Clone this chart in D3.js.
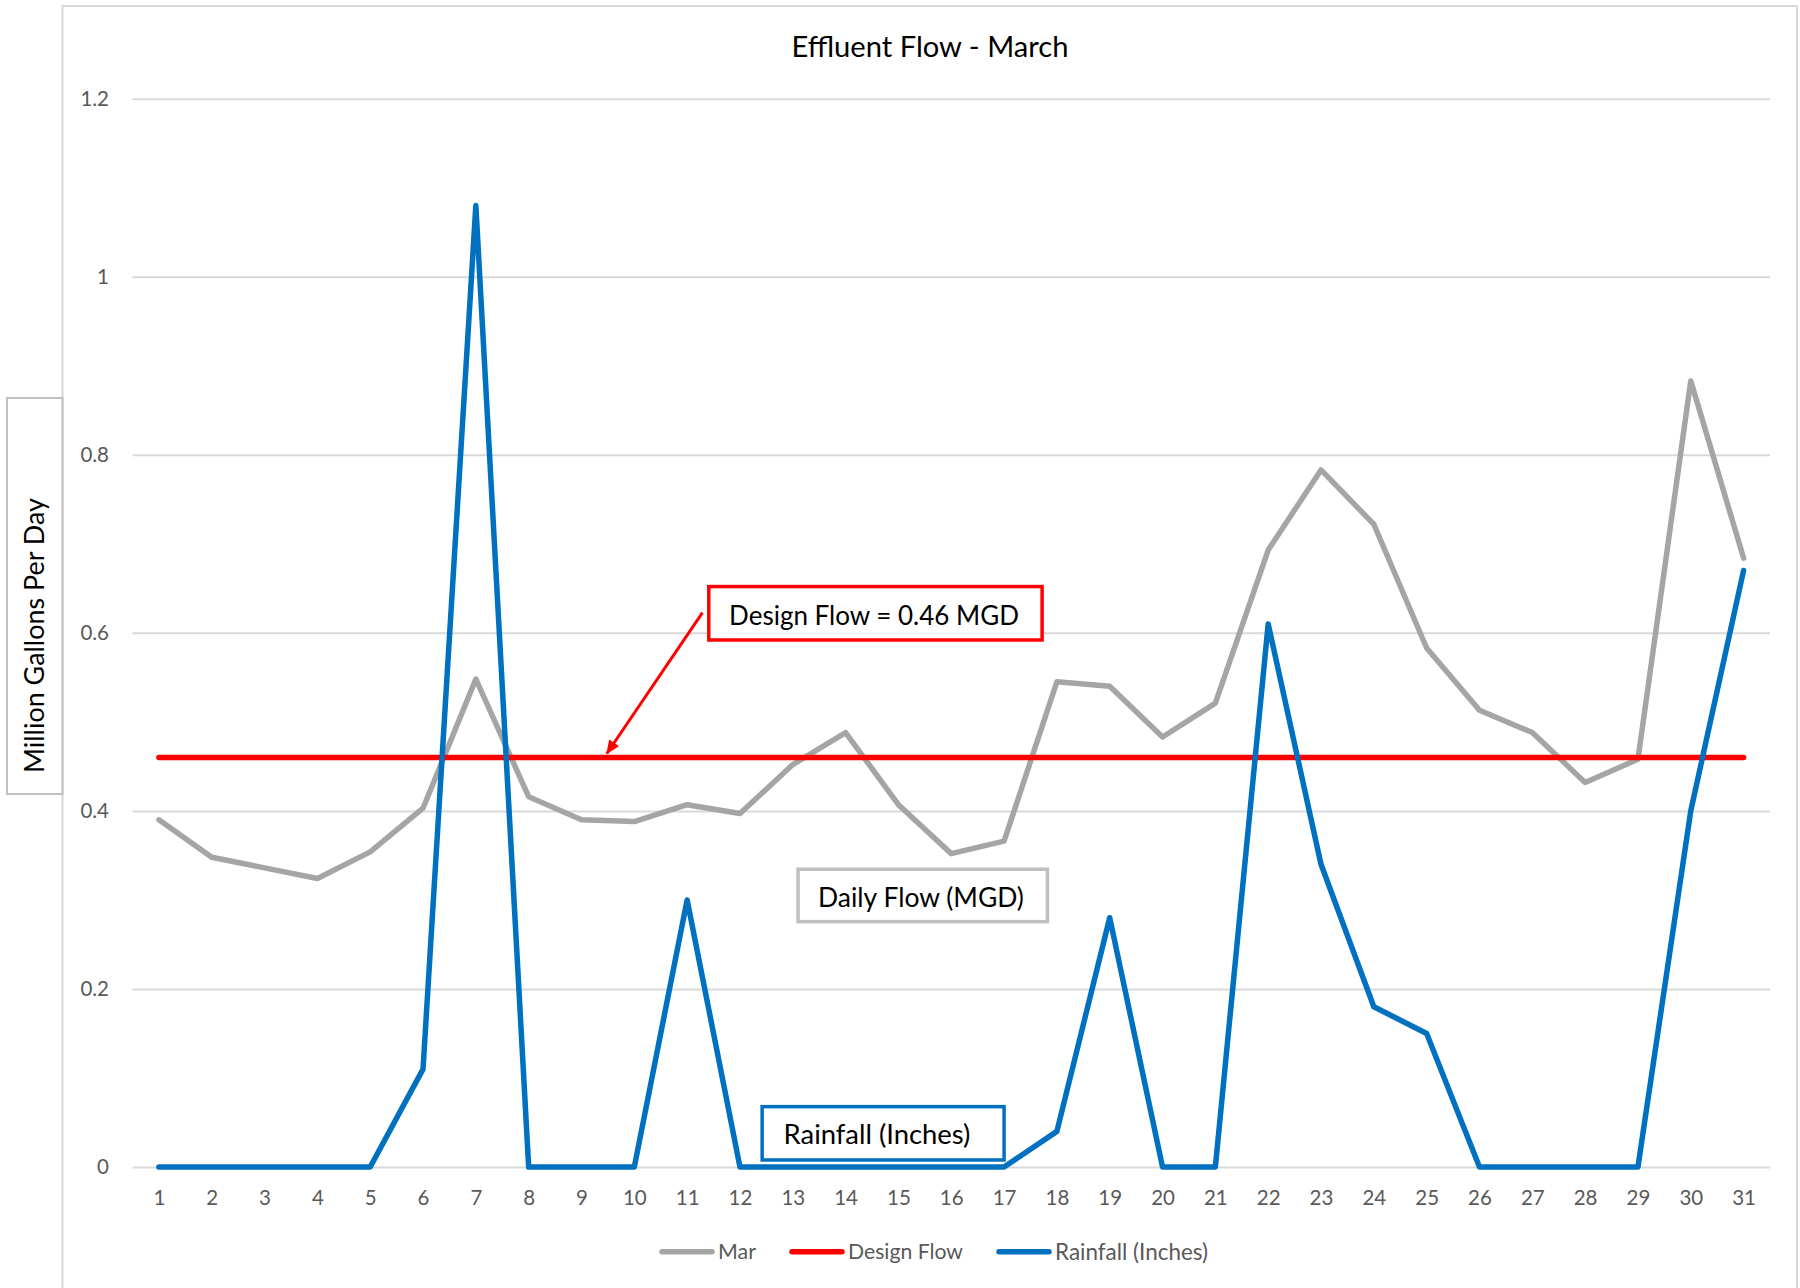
<!DOCTYPE html>
<html>
<head>
<meta charset="utf-8">
<script src="https://cdn.jsdelivr.net/npm/d3@7"></script>
<style>
  html, body { margin: 0; padding: 0; background: #ffffff; }
  svg { display: block; font-family: Lato, "Open Sans", sans-serif; }
</style>
</head>
<body>
<svg id="chart" width="1800" height="1288"></svg>
<script>
// ---------------- DATA ----------------
const days = [1,2,3,4,5,6,7,8,9,10,11,12,13,14,15,16,17,18,19,20,21,22,23,24,25,26,27,28,29,30,31];
const marFlow = [0.390,0.348,0.336,0.324,0.354,0.403,0.548,0.416,0.390,0.388,0.407,0.397,0.452,0.488,0.407,0.352,0.366,0.545,0.540,0.483,0.521,0.693,0.783,0.722,0.583,0.513,0.488,0.432,0.458,0.883,0.684];
const designFlow = [0.46,0.46,0.46,0.46,0.46,0.46,0.46,0.46,0.46,0.46,0.46,0.46,0.46,0.46,0.46,0.46,0.46,0.46,0.46,0.46,0.46,0.46,0.46,0.46,0.46,0.46,0.46,0.46,0.46,0.46,0.46];
const rainfall = [0,0,0,0,0,0.11,1.08,0,0,0,0.30,0,0,0,0,0,0,0.04,0.28,0,0,0.61,0.34,0.18,0.15,0,0,0,0,0.40,0.67];
const yTickValues = [0,0.2,0.4,0.6,0.8,1,1.2];
const yTickLabels = ["0","0.2","0.4","0.6","0.8","1","1.2"];
const seriesNames = ["Mar","Design Flow","Rainfall (Inches)"];
const chartTitle = "Effluent Flow - March";
const yAxisTitle = "Million Gallons Per Day";

// ---------------- LAYOUT ----------------
const W = 1800, H = 1288;
const plot = { left: 132.5, right: 1770, top: 98.7, bottom: 1167 };
const colors = { mar: "#a5a5a5", design: "#ff0000", rain: "#0070c0", grid: "#d9d9d9", tick: "#595959" };

const svg = d3.select("#chart");
svg.append("rect").attr("width", W).attr("height", H).attr("fill", "#ffffff");

// chart outer border (extends beyond picture bottom)
svg.append("rect")
  .attr("x", 62.5).attr("y", 6).attr("width", 1797 - 62.5).attr("height", 1400)
  .attr("fill", "none").attr("stroke", "#d9d9d9").attr("stroke-width", 2);

const x = d3.scalePoint().domain(days).range([plot.left, plot.right]).padding(0.5);
const y = d3.scaleLinear().domain([0, 1.2]).range([plot.bottom, plot.top]);
const xl = d3.scaleLinear().domain([1, 31]).range([x(1), x(31)]); // for annotations

function fitWidth(sel, target) {
  const w = sel.node().getComputedTextLength();
  const fs = parseFloat(sel.attr("font-size"));
  sel.attr("font-size", fs * target / w);
}

// ---- Y axis with gridlines
const yAxis = d3.axisLeft(y)
  .tickValues(yTickValues)
  .tickFormat((d, i) => yTickLabels[i])
  .tickSize(-(plot.right - plot.left))
  .tickPadding(23.5);
const gy = svg.append("g").attr("transform", `translate(${plot.left},0)`).call(yAxis);
gy.select(".domain").remove();
gy.selectAll(".tick line").attr("stroke", colors.grid).attr("stroke-width", 2);
gy.selectAll(".tick text").attr("fill", colors.tick).attr("font-size", 20.5)
  .attr("font-family", "Lato, sans-serif");

// ---- X axis
const xAxis = d3.axisBottom(x).tickSize(0).tickPadding(23.5);
const gx = svg.append("g").attr("transform", `translate(0,${plot.bottom})`).call(xAxis);
gx.select(".domain").remove();
gx.selectAll(".tick text").attr("fill", colors.tick).attr("font-size", 20.5)
  .attr("font-family", "Lato, sans-serif");

// ---- Series lines
const line = d3.line().x((d, i) => x(days[i])).y(d => y(d));
const seriesData = [
  { values: marFlow, color: colors.mar, width: 5.5 },
  { values: designFlow, color: colors.design, width: 5.5 },
  { values: rainfall, color: colors.rain, width: 5.5 }
];
svg.append("g").selectAll("path").data(seriesData).join("path")
  .attr("d", d => line(d.values))
  .attr("fill", "none")
  .attr("stroke", d => d.color)
  .attr("stroke-width", d => d.width)
  .attr("stroke-linejoin", "round")
  .attr("stroke-linecap", "round");

// ---- Title
const title = svg.append("text")
  .attr("x", 930).attr("y", 57.3)
  .attr("text-anchor", "middle")
  .attr("font-size", 28).attr("fill", "#000000")
  .text(chartTitle);
fitWidth(title, 277);

// ---- Y axis title box
svg.append("rect")
  .attr("x", 7).attr("y", 398).attr("width", 55.5).attr("height", 396)
  .attr("fill", "#ffffff").attr("stroke", "#bfbfbf").attr("stroke-width", 2);
const yt = svg.append("text")
  .attr("transform", "translate(44,773) rotate(-90)")
  .attr("text-anchor", "start")
  .attr("font-size", 26).attr("fill", "#000000")
  .text(yAxisTitle);
fitWidth(yt, 275);

// ---- Annotations (data-space boxes)
const defs = svg.append("defs");
defs.append("marker")
  .attr("id", "arrowRed")
  .attr("viewBox", "0 0 14 12")
  .attr("refX", 13).attr("refY", 6)
  .attr("markerWidth", 14).attr("markerHeight", 12)
  .attr("markerUnits", "userSpaceOnUse")
  .attr("orient", "auto")
  .append("path").attr("d", "M0,0 L14,6 L0,12 Z").attr("fill", colors.design);

const annotations = [
  { text: "Design Flow = 0.46 MGD", d0: 11.41, d1: 17.72, v0: 0.652, v1: 0.592, color: colors.design, tw: 290, tx: 874, base: 625 },
  { text: "Daily Flow (MGD)", d0: 13.10, d1: 17.82, v0: 0.3345, v1: 0.2756, color: "#bfbfbf", tw: 206, tx: 921, base: 906.7 },
  { text: "Rainfall (Inches)", d0: 12.42, d1: 17.00, v0: 0.0678, v1: 0.0079, color: colors.rain, tw: 187, tx: 877, base: 1144 }
];

// arrow from design box toward the design-flow line
svg.append("line")
  .attr("x1", xl(11.29)).attr("y1", y(0.6228))
  .attr("x2", xl(9.48)).attr("y2", y(0.4645))
  .attr("stroke", colors.design).attr("stroke-width", 3)
  .attr("marker-end", "url(#arrowRed)");

const ag = svg.append("g").selectAll("g").data(annotations).join("g");
ag.append("rect")
  .attr("x", d => xl(d.d0)).attr("y", d => y(d.v0))
  .attr("width", d => xl(d.d1) - xl(d.d0))
  .attr("height", d => y(d.v1) - y(d.v0))
  .attr("fill", "#ffffff").attr("stroke", d => d.color).attr("stroke-width", 3.5);
ag.append("text")
  .attr("x", d => d.tx).attr("y", d => d.base)
  .attr("text-anchor", "middle")
  .attr("font-size", 26).attr("fill", "#000000")
  .text(d => d.text)
  .each(function(d) { fitWidth(d3.select(this), d.tw); });

// ---- Legend
const legendY = 1251.7;
const legendItems = [
  { name: seriesNames[0], color: colors.mar, lx: 660, tw: 38 },
  { name: seriesNames[1], color: colors.design, lx: 790, tw: 115 },
  { name: seriesNames[2], color: colors.rain, lx: 997, tw: 153 }
];
const lg = svg.append("g").selectAll("g").data(legendItems).join("g");
lg.append("line")
  .attr("x1", d => d.lx + 2).attr("x2", d => d.lx + 52)
  .attr("y1", legendY).attr("y2", legendY)
  .attr("stroke", d => d.color).attr("stroke-width", 5.5).attr("stroke-linecap", "round");
lg.append("text")
  .attr("x", d => d.lx + 58).attr("y", legendY).attr("dy", "0.35em")
  .attr("font-size", 20.5).attr("fill", colors.tick)
  .text(d => d.name)
  .each(function(d) { fitWidth(d3.select(this), d.tw); });
</script>
</body>
</html>
